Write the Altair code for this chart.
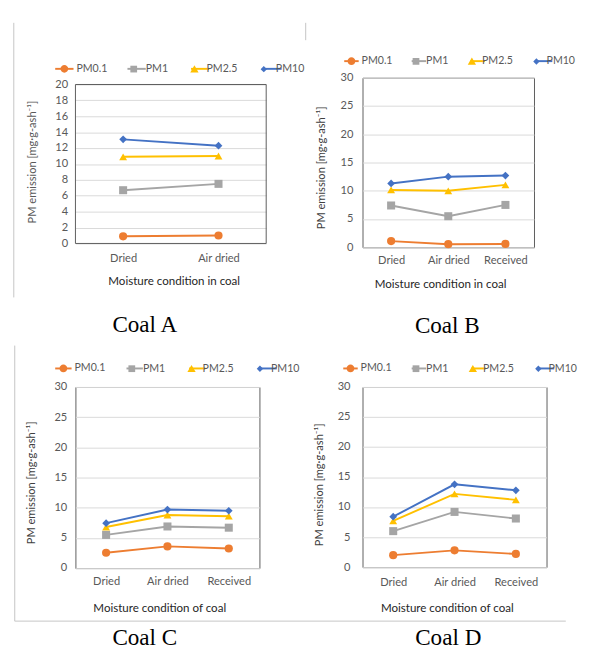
import altair as alt
import pandas as pd

# ---------------- data ----------------
series = ["PM0.1", "PM1", "PM2.5", "PM10"]
colors = ["#ED7D31", "#A5A5A5", "#FFC000", "#4472C4"]
shapes = ["circle", "square", "triangle-up", "diamond"]
marker_sizes = [72, 64, 72, 42]

cond_a = ["Dried", "Air dried"]
cond_bcd = ["Dried", "Air dried", "Received"]

a_pm01 = [0.9, 1.0]
a_pm1 = [6.7, 7.5]
a_pm25 = [10.9, 11.0]
a_pm10 = [13.1, 12.3]

b_pm01 = [1.1, 0.55, 0.6]
b_pm1 = [7.4, 5.5, 7.5]
b_pm25 = [10.15, 10.0, 11.05]
b_pm10 = [11.3, 12.5, 12.7]

c_pm01 = [2.55, 3.6, 3.25]
c_pm1 = [5.5, 6.9, 6.7]
c_pm25 = [6.8, 8.8, 8.6]
c_pm10 = [7.45, 9.7, 9.5]

d_pm01 = [2.0, 2.8, 2.2]
d_pm1 = [6.0, 9.2, 8.1]
d_pm25 = [7.7, 12.2, 11.2]
d_pm10 = [8.4, 13.8, 12.8]

y_title = "PM emission [mg\u00b7g-ash\u207b\u00b9]"
one = pd.DataFrame({"k": [0]})

FONT = "Lato"
FRAME = "#595959"
DECO = "#c4c4c4"


def table(conds, lists):
    rows = []
    for s, vals in zip(series, lists):
        for c, v in zip(conds, vals):
            rows.append({"cond": c, "series": s, "v": v})
    return pd.DataFrame(rows)


def marker_paths(unit):
    # legend marker outlines (pixels converted to the legend symbol's unit box)
    r = 4.0 / unit
    s = 3.5 / unit
    tw, tt, tb = 4.3 / unit, 4.0 / unit, 3.4 / unit
    d = 3.3 / unit
    f = lambda v: format(v, ".3f")
    return [
        "M-%s,0A%s,%s 0 1,0 %s,0A%s,%s 0 1,0 -%s,0Z" % (f(r), f(r), f(r), f(r), f(r), f(r), f(r)),
        "M-%s,-%sH%sV%sH-%sZ" % (f(s), f(s), f(s), f(s), f(s)),
        "M0,-%sL%s,%sH-%sZ" % (f(tt), f(tw), f(tb), f(tw)),
        "M0,-%sL%s,0L0,%sL-%s,0Z" % (f(d), f(d), f(d), f(d)),
    ]


def legend_def(lx, ly, size, colpad, **kw):
    return alt.Legend(title=None, orient="none", legendX=lx, legendY=ly,
                      direction="horizontal", symbolSize=size,
                      labelOffset=2, columnPadding=colpad, padding=0,
                      labelFont=FONT, labelFontSize=11, labelColor="#595959", **kw)


def panel(df, conds, ymax, ystep, w, h, yrange, frame_rect, legend_spec,
          y_lp, y_title_xy, y_title_color, x_lp, x_title, x_title_xy,
          caption, cap_xy, rules):
    x = alt.X("cond:N", sort=conds, scale=alt.Scale(padding=0.5),
              axis=alt.Axis(labelAngle=0, domain=False, ticks=False, tickSize=0,
                            grid=False, labelPadding=x_lp, labelBaseline="middle",
                            labelFont=FONT, labelFontSize=11.5, labelColor="#595959",
                            title=x_title, titleFont=FONT, titleFontSize=12,
                            titleFontWeight="normal", titleColor="#262626",
                            titleX=x_title_xy[0], titleY=x_title_xy[1],
                            titleBaseline="middle"))
    if yrange is not None:
        yscale = alt.Scale(domain=[0, ymax], nice=False, zero=True, range=yrange)
    else:
        yscale = alt.Scale(domain=[0, ymax], nice=False, zero=True)
    y = alt.Y("v:Q", scale=yscale,
              axis=alt.Axis(values=list(range(0, ymax + 1, ystep)), grid=True,
                            gridColor="#d9d9d9", domain=False, ticks=False, tickSize=0,
                            labelPadding=y_lp, labelFont=FONT, labelFontSize=11.5,
                            labelColor="#595959", title=y_title, titleFont=FONT,
                            titleFontSize=11.5, titleFontWeight="normal",
                            titleColor=y_title_color, titleX=y_title_xy[0],
                            titleY=y_title_xy[1], titleBaseline="middle"))
    lx, ly, line_len, colpad = legend_spec
    size = line_len * line_len
    unit = line_len / 2.0
    leg_lines = legend_def(lx, ly, size, colpad, symbolType="stroke",
                           symbolStrokeWidth=2, labelOpacity=0)
    leg_marks = legend_def(lx, ly, size, colpad, symbolOpacity=1)

    lines = alt.Chart(df).mark_line(strokeWidth=2).encode(
        x=x, y=y,
        stroke=alt.Stroke("series:N", scale=alt.Scale(domain=series, range=colors), legend=None))
    pts = alt.Chart(df).mark_point(filled=True, opacity=1, strokeWidth=0).encode(
        x=x, y=y,
        fill=alt.Fill("series:N", scale=alt.Scale(domain=series, range=colors), legend=None),
        shape=alt.Shape("series:N", scale=alt.Scale(domain=series, range=shapes), legend=None),
        size=alt.Size("series:N", scale=alt.Scale(domain=series, range=marker_sizes), legend=None))
    # legend-only layers: no rows pass the filter, the scales carry the entries
    leg_line_layer = alt.Chart(df).transform_filter("datum.v < -100").mark_line(
        strokeWidth=2).encode(
        x=x, y=y,
        stroke=alt.Stroke("series:N", scale=alt.Scale(domain=series, range=colors), legend=leg_lines))
    leg_mark_layer = alt.Chart(df).transform_filter("datum.v < -100").mark_point(
        filled=True, opacity=1).encode(
        x=x, y=y,
        color=alt.Color("series:N", scale=alt.Scale(domain=series, range=colors), legend=leg_marks),
        shape=alt.Shape("series:N", scale=alt.Scale(domain=series, range=marker_paths(unit)),
                        legend=leg_marks))
    layers = []
    for (x1, x2, y1, y2) in rules:
        layers.append(alt.Chart(one).mark_rule(color=DECO, strokeWidth=1).encode(
            x=alt.value(x1), x2=alt.value(x2), y=alt.value(y1), y2=alt.value(y2)))
    if frame_rect is not None:
        layers.append(alt.Chart(one).mark_rect(fillOpacity=0, stroke=FRAME, strokeWidth=1).encode(
            x=alt.value(frame_rect[0]), x2=alt.value(frame_rect[1]),
            y=alt.value(frame_rect[2]), y2=alt.value(frame_rect[3])))
    cap = alt.Chart(one).mark_text(text=caption, font="Liberation Serif", fontSize=24,
                                   color="black", baseline="alphabetic", align="center").encode(
        x=alt.value(cap_xy[0]), y=alt.value(cap_xy[1]))
    layers += [lines, pts, leg_line_layer, leg_mark_layer, cap]
    stroke = "transparent" if frame_rect is not None else FRAME
    return alt.layer(*layers).resolve_scale(
        stroke="independent", shape="independent", color="independent", fill="independent"
    ).properties(
        width=w, height=h,
        view=alt.ViewBackground(stroke=stroke, strokeWidth=1))


A = panel(table(cond_a, [a_pm01, a_pm1, a_pm25, a_pm10]), cond_a, 20, 2, 198, 172,
          [172, 7], (0, 198, 7, 172), (-22, -20, 19, 16), 8, (-44, 87), "#595959",
          16, "Moisture condition in coal", (102, 39),
          "Coal A", (72, 264), [(-64, -64, -57, 228)])
B = panel(table(cond_bcd, [b_pm01, b_pm1, b_pm25, b_pm10]), cond_bcd, 30, 5, 178, 176,
          None, None, (-20, -26, 15, 15), 10, (-42, 93), "#404040",
          14, "Moisture condition in coal", (80.5, 38),
          "Coal B", (88, 265), [(-59, -59, -57, -39)])
C = panel(table(cond_bcd, [c_pm01, c_pm1, c_pm25, c_pm10]), cond_bcd, 30, 5, 191, 188,
          None, None, (-22, -29, 17, 17), 9, (-45, 99), "#404040",
          14, "Moisture condition of coal", (87, 41),
          "Coal C", (72, 268), [(-63, -63, -43, 243), (-63, 509, 243, 243)])
D = panel(table(cond_bcd, [d_pm01, d_pm1, d_pm25, d_pm10]), cond_bcd, 30, 5, 191, 187,
          None, None, (-21, -28, 15, 16), 13, (-45, 101), "#404040",
          16, "Moisture condition of coal", (87.5, 42),
          "Coal D", (89, 268), [])

chart = alt.concat(A, B, C, D, columns=2, spacing={"row": 145, "column": 100},
                   bounds="flush", align="none").resolve_scale(
    color="independent", stroke="independent", fill="independent",
    shape="independent", size="independent",
    x="independent", y="independent"
).properties(
    padding={"left": 5, "top": 2, "right": 0, "bottom": -2}
).configure(font=FONT).configure_view(stroke=FRAME)

chart.save("out.html", embed_options={"renderer": "svg", "actions": False})
